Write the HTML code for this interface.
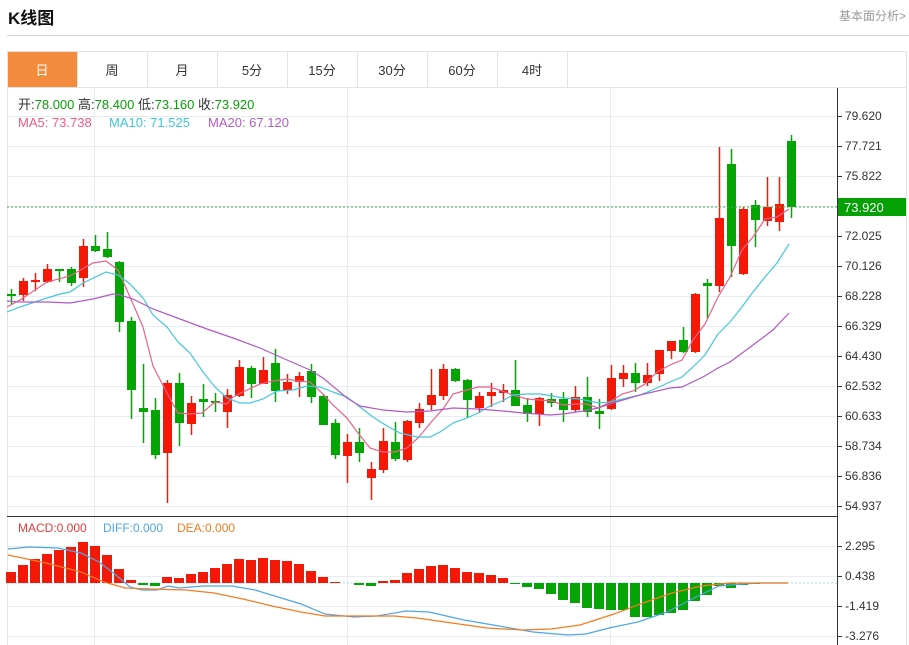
<!DOCTYPE html>
<html><head><meta charset="utf-8"><style>
body{margin:0;background:#fff;width:909px;height:645px;overflow:hidden;font-family:"Liberation Sans","Noto Sans CJK SC",sans-serif;}
.t{position:absolute;}
</style></head><body>
<div class="t" style="left:8px;top:4px;font-size:17px;font-weight:bold;color:#111;">K线图</div>
<div class="t" style="left:839px;top:7px;font-size:12px;color:#999;">基本面分析&gt;</div>
<div class="t" style="left:7px;top:35px;width:902px;height:1px;background:#d4d4d4;"></div>
<svg class="t" style="left:0;top:0" width="909" height="645" xmlns="http://www.w3.org/2000/svg" font-family="Liberation Sans, Noto Sans CJK SC, sans-serif">
<rect x="7.5" y="51.5" width="899" height="600" fill="none" stroke="#e2e2e2"/>
<rect x="8" y="52" width="69" height="35" fill="#f38b3d"/>
<g stroke="#e2e2e2"><line x1="77.5" y1="52" x2="77.5" y2="87"/><line x1="147.5" y1="52" x2="147.5" y2="87"/><line x1="217.5" y1="52" x2="217.5" y2="87"/><line x1="287.5" y1="52" x2="287.5" y2="87"/><line x1="357.5" y1="52" x2="357.5" y2="87"/><line x1="427.5" y1="52" x2="427.5" y2="87"/><line x1="497.5" y1="52" x2="497.5" y2="87"/><line x1="567.5" y1="52" x2="567.5" y2="87"/><line x1="7" y1="87.5" x2="907" y2="87.5"/></g>
<g font-size="13" fill="#333" text-anchor="middle"><text x="42" y="75" fill="#fff">日</text><text x="112" y="75">周</text><text x="182" y="75">月</text><text x="252" y="75">5分</text><text x="322" y="75">15分</text><text x="392" y="75">30分</text><text x="462" y="75">60分</text><text x="532" y="75">4时</text></g>
<g id="grid" stroke="#e3edf3" stroke-width="1"></g>
<g stroke="#e3edf3"><line x1="94.5" y1="88" x2="94.5" y2="645"/><line x1="347.5" y1="88" x2="347.5" y2="645"/><line x1="610.5" y1="88" x2="610.5" y2="645"/></g>
<line x1="7" y1="516.5" x2="837" y2="516.5" stroke="#333"/>
<line x1="837.5" y1="88" x2="837.5" y2="645" stroke="#333"/>
<g id="ax" font-size="12" fill="#333"></g>
<g id="c"></g>
<polyline fill="none" stroke="#e9628a" stroke-width="1.2" points="7,307 20,300 47,282 70,276 93,263 106,261 118,270 130,297 143,327 153,366 167,393 178,413 190,414 202,413 215,402 227,404 233,397 247,390 260,384 273,381 287,379 298,381 310,382 322,393 333,405 347,418 358,433 370,448 383,452 395,452 407,448 418,438 433,420 443,409 453,394 467,390 478,387 490,387 502,391 513,395 527,399 540,400 552,401 563,405 577,404 587,404 598,408 610,402 622,394 633,391 645,384 657,372 670,365 682,360 693,340 705,324 718,297 730,277 742,250 753,237 765,219 777,217 789,209"/>
<polyline fill="none" stroke="#43c7de" stroke-width="1.2" points="7,312 20,307 47,298 60,294 70,292 83,283 106,272 118,275 130,284 143,298 153,315 167,327 178,342 190,353 203,372 215,387 227,398 240,403 250,403 263,399 277,391 293,390 307,386 320,387 333,392 347,397 360,407 373,417 387,426 400,433 417,437 430,437 440,432 453,423 467,418 478,413 490,406 502,401 513,395 527,394 540,394 553,396 563,398 580,399 598,403 610,402 627,398 640,395 657,388 670,382 682,377 693,367 705,355 718,334 730,322 742,307 753,292 765,277 777,263 789,244"/>
<polyline fill="none" stroke="#b259c6" stroke-width="1.2" points="7,301 20,302 47,302 70,303 93,299 113,294 120,295 133,299 153,309 180,319 207,329 233,338 260,348 287,360 310,370 323,378 347,398 360,406 383,410 407,412 430,411 453,408 478,409 503,411 523,413 550,415 563,414 583,411 598,408 613,403 640,395 670,388 682,387 703,377 718,368 730,362 753,345 773,330 789,313"/>
<line x1="7" y1="207" x2="837" y2="207" stroke="#3cb043" stroke-dasharray="2,2"/>
<rect x="838" y="198" width="68" height="18" fill="#04a004"/>
<text x="844" y="212" font-size="13" fill="#fff">73.920</text>
<line x1="7" y1="583" x2="837" y2="583" stroke="#a6d8ee" stroke-dasharray="2,2"/>
<g id="m"></g>
<polyline fill="none" stroke="#4ea7e8" stroke-width="1.2" points="8,549 29,547 58,548 81,553 99,562 116,575 130,587 142,590 157,590 168,586 180,588 203,586 232,586 255,590 278,597 301,604 325,614 354,617 377,616 406,611 429,612 464,620 499,626 533,632 568,635 586,634 609,628 638,622 667,612 696,597 719,586 742,584 759,583 788,583"/>
<polyline fill="none" stroke="#f47b20" stroke-width="1.2" points="8,555 46,563 81,572 104,582 125,588 151,589 186,590 214,593 243,599 272,606 301,612 325,616 359,616 394,616 417,618 452,623 487,628 522,630 551,629 580,625 614,614 643,603 672,593 701,586 730,583 788,583"/>
<g font-size="13"><text x="18" y="109" fill="#333">开:<tspan fill="#0a9d0a">78.000</tspan>  高:<tspan fill="#0a9d0a">78.400</tspan>  低:<tspan fill="#0a9d0a">73.160</tspan>  收:<tspan fill="#0a9d0a">73.920</tspan></text>
<text x="18" y="127" fill="#ed5b85">MA5: 73.738</text><text x="109" y="127" fill="#3ec6dd">MA10: 71.525</text><text x="208" y="127" fill="#b25cc4">MA20: 67.120</text></g>
<g font-size="12"><text x="18" y="532" fill="#e83a3a">MACD:0.000</text><text x="103" y="532" fill="#4ea7e8">DIFF:0.000</text><text x="177" y="532" fill="#f47b20">DEA:0.000</text></g>
</svg>
<script>
var NS="http://www.w3.org/2000/svg";
function el(p,t,a){var e=document.createElementNS(NS,t);for(var k in a)e.setAttribute(k,a[k]);p.appendChild(e);return e;}
var g=document.getElementById("grid"),ax=document.getElementById("ax");
var labs=["79.620","77.721","75.822","","72.025","70.126","68.228","66.329","64.430","62.532","60.633","58.734","56.836","54.937"];
for(var i=0;i<14;i++){var y=116+30*i;el(g,"line",{x1:7,x2:837,y1:y+.5,y2:y+.5});if(labs[i]){el(ax,"line",{x1:837,x2:842,y1:y+.5,y2:y+.5,stroke:"#333"});var t=el(ax,"text",{x:845,y:y+4});t.textContent=labs[i];}}
var ml=["2.295","0.438","-1.419","-3.276"];
for(var i=0;i<4;i++){var y=546+30*i;el(g,"line",{x1:7,x2:837,y1:y+.5,y2:y+.5});el(ax,"line",{x1:837,x2:842,y1:y+.5,y2:y+.5,stroke:"#333"});var t=el(ax,"text",{x:845,y:y+4});t.textContent=ml[i];}
var R="#f21a06",G="#04a404";
var C=[[294,295,289,305,G],[281,295,278,301,R],[280,282,273,291,R],[269,282,264,283,R],[269,270,269,282,G],[269,283,267,286,G],[246,278,239,287,R],[246,251,235,252,G],[249,257,232,258,G],[262,322,261,332,G],[321,390,317,419,G],[408,412,364,443,G],[410,455,398,459,G],[383,453,380,503,R],[383,423,373,446,G],[403,424,396,435,R],[399,402,384,417,G],[401,403,393,412,G],[395,412,389,428,R],[367,396,360,397,R],[368,384,366,398,G],[370,384,357,384,R],[363,391,349,402,G],[382,390,374,394,R],[376,382,372,397,R],[371,397,364,403,G],[396,425,394,425,G],[423,455,419,459,G],[442,456,434,483,R],[442,453,428,462,G],[469,478,462,500,R],[441,470,428,473,R],[442,459,422,461,G],[421,460,420,462,R],[409,423,403,428,R],[395,405,369,410,R],[369,396,364,400,R],[369,381,368,382,G],[380,400,379,418,G],[396,408,392,413,R],[392,396,383,407,R],[390,393,384,402,R],[390,406,360,406,G],[405,414,398,422,G],[398,414,397,426,R],[399,403,393,407,G],[399,410,392,422,G],[397,410,386,412,R],[397,412,377,417,G],[411,414,399,429,G],[378,409,365,410,R],[373,379,365,387,R],[373,383,363,392,G],[375,383,363,386,R],[350,374,350,381,R],[341,351,341,359,R],[340,352,327,353,G],[294,352,293,353,R],[283,286,279,319,G],[218,286,147,292,R],[164,246,149,277,G],[209,274,207,275,R],[205,220,200,247,G],[207,221,177,226,R],[204,222,177,231,R],[141,207,135,218,G]];
var cg=document.getElementById("c");
C.forEach(function(c,i){var x=11+12*i;el(cg,"line",{x1:x+.5,x2:x+.5,y1:c[2],y2:c[3],stroke:c[4],"stroke-width":1.5});var h=Math.max(2,c[1]-c[0]);el(cg,"rect",{x:x-4,y:c[0],width:9,height:h,fill:c[4]});});
var M=[572,565,559,554,550,547,542,546,555,569,580,585,586,577,578,574,572,568,564,559,560,558,560,561,564,571,577,582,583,585,586,581,580,573,569,566,565,568,572,573,575,578,584,587,589,594,600,603,608,609,610,610,617,617,615,613,610,601,595,586,588,585,584,583,583,583];
var mg=document.getElementById("m");
M.forEach(function(v,i){var x=11+12*i-5;if(v<583)el(mg,"rect",{x:x,y:v,width:10,height:583-v,fill:R});else if(v>583)el(mg,"rect",{x:x,y:583,width:10,height:v-583,fill:G});});
</script>
</body></html>
